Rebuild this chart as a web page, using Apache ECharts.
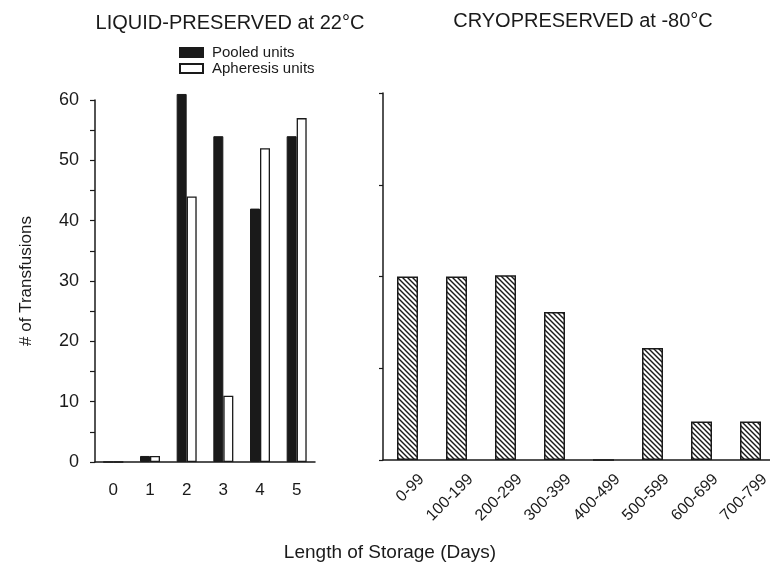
<!DOCTYPE html>
<html>
<head>
<meta charset="utf-8">
<script src="https://cdn.jsdelivr.net/npm/echarts@6/dist/echarts.min.js"></script>
<style>
  html, body { margin: 0; padding: 0; background: #fff; }
  #chart { width: 770px; height: 575px; }
</style>
</head>
<body>
<div id="chart"></div>
<script>
// liquid-preserved at 22°C, storage in days
const liquidDays = ["0", "1", "2", "3", "4", "5"];
const pooledUnits = [0, 1, 61, 54, 42, 54];
const apheresisUnits = [0, 1, 44, 11, 52, 57];

// cryopreserved at -80°C, storage ranges in days
const cryoRanges = ["0-99", "100-199", "200-299", "300-399", "400-499", "500-599", "600-699", "700-799"];
const cryoUnits = [30, 30, 30.2, 24.2, 0, 18.3, 6.3, 6.3];

const FONT = '"Liberation Sans", Arial, sans-serif';
const INK = "#1a1a1a";

// diagonal hatch for the cryo bars
function hatch() {
  const c = document.createElement("canvas");
  const s = 5;
  c.width = s;
  c.height = s;
  const ctx = c.getContext("2d");
  ctx.fillStyle = "#fff";
  ctx.fillRect(0, 0, s, s);
  ctx.strokeStyle = INK;
  ctx.lineWidth = 1.4;
  [-s, 0, s].forEach(k => {
    ctx.beginPath();
    ctx.moveTo(k - 1, -1);
    ctx.lineTo(k + s + 1, s + 1);
    ctx.stroke();
  });
  return c;
}

const chart = echarts.init(document.getElementById("chart"), null, { renderer: "canvas" });

const axisLine = { show: true, lineStyle: { color: INK, width: 1.5 } };

chart.setOption({
  animation: false,
  backgroundColor: "#fff",
  textStyle: { fontFamily: FONT, color: INK },
  graphic: [
    { type: "text", x: 230, y: 23, style: { text: "LIQUID-PRESERVED at 22°C", font: "20px " + FONT, fill: INK, align: "center", verticalAlign: "middle" } },
    { type: "text", x: 583, y: 21, style: { text: "CRYOPRESERVED at -80°C", font: "20px " + FONT, fill: INK, align: "center", verticalAlign: "middle" } },
    { type: "text", x: 390, y: 553, style: { text: "Length of Storage (Days)", font: "19px " + FONT, fill: INK, align: "center", verticalAlign: "middle" } }
  ],
  legend: {
    orient: "vertical",
    left: 174,
    top: 40,
    itemWidth: 23,
    itemHeight: 9,
    itemGap: 1,
    icon: "rect",
    textStyle: { fontSize: 15, color: INK, fontFamily: FONT, padding: [0, 0, 0, 4] },
    data: ["Pooled units", "Apheresis units"]
  },
  grid: [
    { left: 95, top: 100, width: 220, height: 362, containLabel: false, outerBoundsMode: "none" },
    { left: 383, top: 93, width: 392, height: 367, containLabel: false, outerBoundsMode: "none" }
  ],
  xAxis: [
    {
      type: "category",
      gridIndex: 0,
      data: liquidDays,
      axisLine: axisLine,
      axisTick: { show: false },
      axisLabel: { interval: 0, fontSize: 17, color: INK, margin: 20 },
      splitLine: { show: false }
    },
    {
      type: "category",
      gridIndex: 1,
      data: cryoRanges,
      axisLine: axisLine,
      axisTick: { show: false },
      axisLabel: { interval: 0, rotate: 45, fontSize: 16, color: INK, margin: 31, padding: [0, -20, 0, 0] },
      splitLine: { show: false }
    }
  ],
  yAxis: [
    {
      type: "value",
      gridIndex: 0,
      min: 0,
      max: 60,
      interval: 5,
      name: "# of Transfusions",
      nameLocation: "middle",
      nameRotate: 90,
      nameGap: 60,
      nameTextStyle: { fontSize: 17, color: INK, fontFamily: FONT },
      axisLine: axisLine,
      axisTick: { show: true, inside: false, length: 5, lineStyle: { color: INK, width: 1.2 } },
      axisLabel: {
        fontSize: 18,
        color: INK,
        margin: 16,
        formatter: v => (v % 10 === 0 ? String(v) : "")
      },
      splitLine: { show: false }
    },
    {
      type: "value",
      gridIndex: 1,
      min: 0,
      max: 60,
      interval: 15,
      axisLine: axisLine,
      axisTick: { show: true, inside: false, length: 4, lineStyle: { color: INK, width: 1.2 } },
      axisLabel: { show: false },
      splitLine: { show: false }
    }
  ],
  series: [
    {
      name: "Pooled units",
      type: "bar",
      xAxisIndex: 0,
      yAxisIndex: 0,
      data: pooledUnits,
      barWidth: 10,
      barGap: "0%",
      clip: false,
      itemStyle: { color: INK, borderColor: INK, borderWidth: 1 }
    },
    {
      name: "Apheresis units",
      type: "bar",
      xAxisIndex: 0,
      yAxisIndex: 0,
      data: apheresisUnits,
      barWidth: 10,
      barGap: "0%",
      clip: false,
      itemStyle: { color: "#fff", borderColor: INK, borderWidth: 1.3 }
    },
    {
      name: "Cryopreserved",
      type: "bar",
      xAxisIndex: 1,
      yAxisIndex: 1,
      data: cryoUnits,
      barWidth: 21,
      itemStyle: { color: { image: hatch(), repeat: "repeat" }, borderColor: INK, borderWidth: 1.5 }
    }
  ]
});
</script>
</body>
</html>
